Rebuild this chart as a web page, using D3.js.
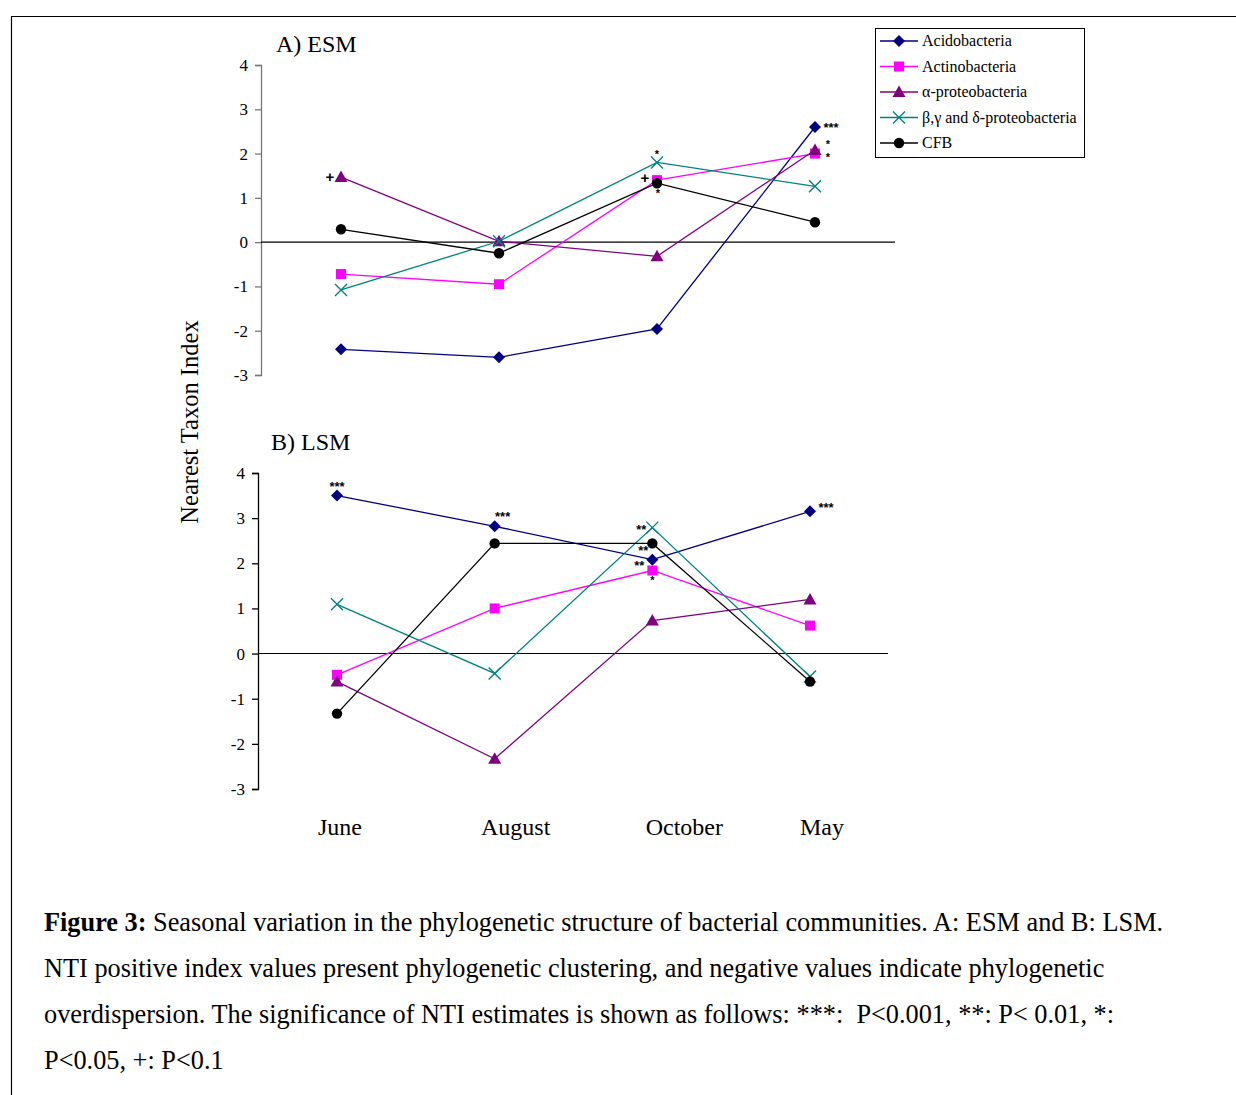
<!DOCTYPE html>
<html><head><meta charset="utf-8">
<script src="https://cdn.jsdelivr.net/npm/d3@7"></script>
<style>
body{margin:0;background:#fff;}
svg{display:block;font-family:"Liberation Serif","Times New Roman",serif;}
</style></head><body>
<svg id="c" width="1236" height="1095"></svg>
<script>
const months = ["June","August","October","May"];
const seriesNames = ["Acidobacteria","Actinobacteria","α-proteobacteria","β,γ and δ-proteobacteria","CFB"];
const yTicks = [4,3,2,1,0,-1,-2,-3];

// Panel A (ESM)
const esmAcido = [-2.42,-2.6,-1.96,2.6];
const esmActino = [-0.72,-0.95,1.4,2.0];
const esmAlpha = [1.47,0.02,-0.32,2.08];
const esmBGD = [-1.08,0.02,1.8,1.26];
const esmCFB = [0.29,-0.25,1.33,0.45];
// Panel B (LSM)
const lsmAcido = [3.5,2.82,2.08,3.15];
const lsmActino = [-0.47,1.0,1.84,0.62];
const lsmAlpha = [-0.62,-2.33,0.73,1.2];
const lsmBGD = [1.09,-0.44,2.79,-0.51];
const lsmCFB = [-1.33,2.44,2.44,-0.62];

// significance annotations: [seriesIndex, monthIndex, label, dx, dy]
const esmSig = [[2,0,"+",-11,-1],[3,2,"*",0,-8],[4,2,"+",-12,-6],[4,2,"*",1,10],[0,3,"***",16,0],[2,3,"*",13,-6],[2,3,"*",13,7]];
const lsmSig = [[0,0,"***",0,-9],[0,1,"***",8,-10],[3,2,"**",-11,2],[0,2,"**",-9,-9],[1,2,"**",-13,-5],[1,2,"*",0,9],[0,3,"***",16,-4]];

const colors = ["#000080","#FF00FF","#800080","#008080","#000000"];
const shapes = ["diamond","square","triangle","x","circle"];

const svg = d3.select("#c");

// frame
svg.append("path").attr("d","M11.5,1095 V16.5 H1236").attr("fill","none").attr("stroke","#000").attr("stroke-width",1.2);

function marker(g, shape, x, y, color){
  if(shape==="diamond"){
    g.append("path").attr("d",`M${x},${y-6}L${x+6},${y}L${x},${y+6}L${x-6},${y}Z`).attr("fill",color);
  } else if(shape==="square"){
    g.append("rect").attr("x",x-5).attr("y",y-5).attr("width",10).attr("height",10).attr("fill",color);
  } else if(shape==="triangle"){
    g.append("path").attr("d",`M${x},${y-6.5}L${x+6.5},${y+5}L${x-6.5},${y+5}Z`).attr("fill",color);
  } else if(shape==="x"){
    g.append("path").attr("d",`M${x-6},${y-6}L${x+6},${y+6}M${x-6},${y+6}L${x+6},${y-6}`).attr("stroke",color).attr("stroke-width",1.4);
  } else {
    g.append("circle").attr("cx",x).attr("cy",y).attr("r",5.2).attr("fill",color);
  }
}

function panel(cfg){
  const g = svg.append("g");
  const x = d3.scalePoint().domain(months).range(cfg.xr);
  const y = d3.scaleLinear().domain([-3,4]).range(cfg.yr);
  const ax = d3.axisLeft(y).tickValues(yTicks).tickSize(6).tickPadding(7).tickFormat(d=>String(d));
  const axg = g.append("g").attr("transform",`translate(${cfg.ax},0)`).call(ax);
  axg.select(".domain").attr("stroke",cfg.axColor).attr("stroke-width",1.3);
  axg.selectAll(".tick line").attr("stroke",cfg.axColor).attr("stroke-width",1.3);
  axg.selectAll(".tick text").attr("font-size",17).attr("font-family","Liberation Serif").attr("fill","#000");
  g.append("line").attr("x1",cfg.ax).attr("x2",cfg.zx2).attr("y1",y(0)).attr("y2",y(0)).attr("stroke","#000").attr("stroke-width",1.1);
  g.append("text").attr("x",cfg.tx).attr("y",cfg.ty).attr("font-size",24).text(cfg.title);
  cfg.data.forEach((vals,i)=>{
    const line = d3.line().x((d,j)=>x(months[j])).y(d=>y(d));
    g.append("path").attr("d",line(vals)).attr("fill","none").attr("stroke",colors[i]).attr("stroke-width",1.3);
  });
  cfg.data.forEach((vals,i)=>{
    vals.forEach((v,j)=>marker(g,shapes[i],x(months[j]),y(v),colors[i]));
  });
  cfg.sig.forEach(([s,m,lab,dx,dy])=>{
    const isPlus = lab==="+";
    g.append("text").attr("x",x(months[m])+dx).attr("y",y(cfg.data[s][m])+dy)
      .attr("text-anchor","middle").attr("dominant-baseline","central")
      .attr("font-size",isPlus?15:(lab==="*"?11:13)).attr("font-weight","bold").attr("font-family","Liberation Sans").text(lab);
  });
  return x;
}

panel({xr:[341,815], yr:[375,65], ax:261, axColor:"#777", zx2:895, tx:276, ty:52, title:"A) ESM",
  data:[esmAcido,esmActino,esmAlpha,esmBGD,esmCFB], sig:esmSig});
const xB = panel({xr:[337,810], yr:[789,473], ax:258, axColor:"#000", zx2:888, tx:271, ty:450, title:"B) LSM",
  data:[lsmAcido,lsmActino,lsmAlpha,lsmBGD,lsmCFB], sig:lsmSig});

// month labels
const labelShift = [3,21,32,12];
months.forEach((m,i)=>{
  svg.append("text").attr("x",xB(m)+labelShift[i]).attr("y",835).attr("text-anchor","middle").attr("font-size",24).text(m);
});

// y title
svg.append("text").attr("transform","translate(198,422) rotate(-90)").attr("text-anchor","middle").attr("font-size",24.5).text("Nearest Taxon Index");

// legend
const lg = svg.append("g");
lg.append("rect").attr("x",875.5).attr("y",28.5).attr("width",209).attr("height",129).attr("fill","#fff").attr("stroke","#000").attr("stroke-width",1);
seriesNames.forEach((n,i)=>{
  const yy = 41 + i*25.5;
  lg.append("line").attr("x1",880).attr("x2",918).attr("y1",yy).attr("y2",yy).attr("stroke",colors[i]).attr("stroke-width",1.3);
  marker(lg,shapes[i],899,yy,colors[i]);
  lg.append("text").attr("x",922).attr("y",yy+5).attr("font-size",16).text(n);
});

// caption
const cap = svg.append("g").attr("font-size",26.3);
const capLines = [
  null,
  "NTI positive index values present phylogenetic clustering, and negative values indicate phylogenetic",
  "overdispersion. The significance of NTI estimates is shown as follows: ***:  P<0.001, **: P< 0.01, *:",
  "P<0.05, +: P<0.1"
];
const t1 = cap.append("text").attr("x",44).attr("y",931);
t1.append("tspan").attr("font-weight","bold").text("Figure 3:");
t1.append("tspan").text(" Seasonal variation in the phylogenetic structure of bacterial communities. A: ESM and B: LSM.");
capLines.forEach((l,i)=>{ if(l) cap.append("text").attr("x",44).attr("y",931+i*46).style("white-space","pre").text(l); });
</script>
</body></html>
